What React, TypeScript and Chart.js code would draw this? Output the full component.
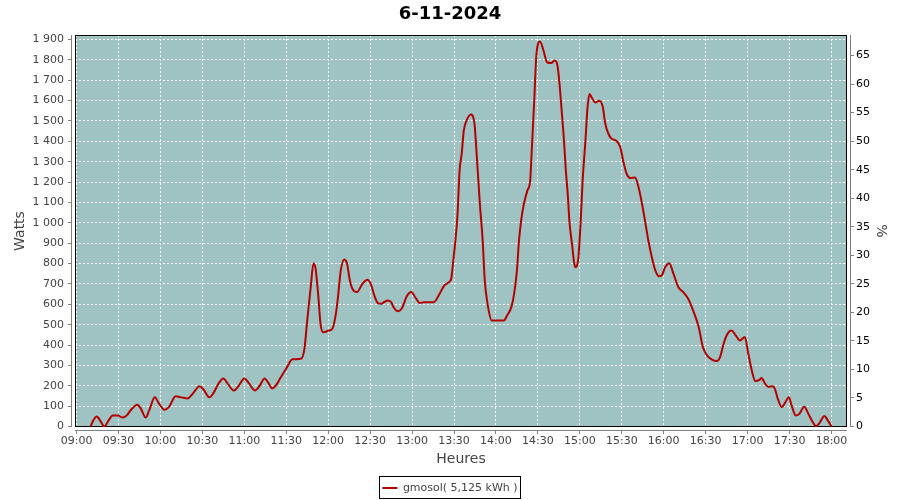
import React, { useEffect, useRef } from "react";
import { Chart, registerables } from "chart.js";

Chart.register(...registerables);

const chartTitle = "6-11-2024";
const seriesLabel = "gmosol( 5,125 kWh )";
const xAxisTitle = "Heures";
const leftAxisTitle = "Watts";
const rightAxisTitle = "%";

const times = [
  "09:10", "09:12", "09:14:30", "09:17", "09:20", "09:22:30", "09:26", "09:29:30", "09:33", "09:36",
  "09:39", "09:43:30", "09:46", "09:49:30", "09:52", "09:56", "09:59", "10:03", "10:06", "10:11",
  "10:15", "10:19:30", "10:23", "10:28", "10:31", "10:35", "10:38", "10:41:30", "10:45", "10:48",
  "10:52:30", "10:56", "11:00", "11:03:30", "11:07:30", "11:11", "11:14:30", "11:17:30", "11:20", "11:23",
  "11:26", "11:30", "11:34:30", "11:40:30", "11:43", "11:45", "11:47:30", "11:49:30", "11:51", "11:53",
  "11:54:30", "11:56:30", "12:00:30", "12:03", "12:05:30", "12:07", "12:09", "12:11:30", "12:13:30", "12:15:30",
  "12:18", "12:20:30", "12:24:30", "12:28", "12:30:30", "12:33", "12:35:30", "12:37:30", "12:42:30", "12:45",
  "12:47", "12:50", "12:52:30", "12:56:30", "12:59:30", "13:02:30", "13:05:30", "13:08:30", "13:15:30", "13:19",
  "13:23", "13:26:30", "13:28", "13:29:30", "13:31", "13:32:30", "13:34", "13:35:30", "13:37", "13:39",
  "13:42", "13:44:30", "13:46:30", "13:48:30", "13:50:30", "13:52", "13:54", "13:57", "14:05:30", "14:08",
  "14:11", "14:13", "14:15", "14:16:30", "14:18", "14:20", "14:22:30", "14:24:30", "14:25:30", "14:27:30",
  "14:29", "14:31:30", "14:34", "14:36:30", "14:39:30", "14:42", "14:44", "14:45:30", "14:47", "14:48:30",
  "14:50", "14:51:30", "14:52:30", "14:54:30", "14:56", "14:57", "14:58", "14:59", "15:00:30", "15:02",
  "15:04", "15:05:30", "15:07", "15:08:30", "15:11", "15:14", "15:16:30", "15:18", "15:20:30", "15:23",
  "15:26", "15:29", "15:31", "15:33:30", "15:36", "15:39:30", "15:42", "15:44:30", "15:47", "15:49",
  "15:51:30", "15:54", "15:56:30", "15:58:30", "16:01", "16:04", "16:07", "16:10:30", "16:14", "16:17:30",
  "16:21", "16:25", "16:28", "16:31", "16:34:30", "16:38", "16:40:30", "16:42:30", "16:45", "16:48:30",
  "16:51:30", "16:54:30", "16:58", "17:00:30", "17:03", "17:05:30", "17:08:30", "17:10", "17:12:30", "17:15",
  "17:18", "17:19:30", "17:22", "17:24:30", "17:27", "17:29:30", "17:31:30", "17:34:30", "17:37", "17:40:30",
  "17:43:30", "17:46", "17:49", "17:51:30", "17:55", "17:57", "18:00",
];

const watts = [
  0, 30, 49, 28, 0, 25, 54, 54, 44, 55,
  82, 107, 88, 44, 80, 143, 112, 82, 95, 148,
  143, 138, 160, 197, 180, 143, 165, 210, 236, 212,
  177, 200, 236, 210, 177, 200, 236, 210, 187, 205,
  240, 285, 330, 332, 381, 520, 684, 802, 774, 635,
  504, 463, 471, 480, 553, 635, 766, 820, 799, 717,
  668, 660, 700, 720, 700, 643, 606, 602, 619, 610,
  583, 566, 578, 643, 660, 632, 606, 610, 610, 643,
  692, 709, 725, 815, 913, 1040, 1257, 1339, 1453, 1502,
  1532, 1494, 1306, 1093, 913, 717, 602, 520, 520, 545,
  586, 651, 766, 913, 1011, 1093, 1159, 1208, 1339, 1617,
  1830, 1890, 1846, 1789, 1784, 1797, 1772, 1680, 1551, 1420,
  1257, 1126, 1011, 890, 800, 782, 790, 831, 994, 1207,
  1403, 1566, 1632, 1615, 1591, 1599, 1566, 1493, 1436, 1411,
  1403, 1370, 1305, 1240, 1220, 1223, 1174, 1092, 994, 913,
  831, 766, 738, 741, 782, 802, 749, 684, 659, 627,
  570, 488, 390, 349, 328, 321, 344, 398, 447, 471,
  447, 422, 439, 357, 275, 223, 229, 238, 210, 194,
  198, 185, 128, 95, 119, 144, 103, 54, 62, 97,
  62, 29, 2, 18, 51, 34, 0,
];

const timeTickLabels = [
  "09:00", "09:30", "10:00", "10:30", "11:00", "11:30", "12:00", "12:30", "13:00", "13:30",
  "14:00", "14:30", "15:00", "15:30", "16:00", "16:30", "17:00", "17:30", "18:00",
];
const wattTicks = [0, 100, 200, 300, 400, 500, 600, 700, 800, 900, 1000, 1100, 1200, 1300, 1400, 1500, 1600, 1700, 1800, 1900];
const percentTicks = [0, 5, 10, 15, 20, 25, 30, 35, 40, 45, 50, 55, 60, 65];

const xBounds = ["08:58:54", "18:11:06"];
const wattBounds = [-2.5, 1922];
const percentBounds = [-0.09, 68.59];

const toMin = (s: string) => {
  const p = s.split(":").map(Number);
  return p[0] * 60 + p[1] + (p[2] || 0) / 60;
};
const spaced = (v: number) => String(v).replace(/\B(?=(\d{3})+(?!\d))/g, " ");

const FONT = '"DejaVu Sans", sans-serif';
const PLOT_BG = "#9ec3c2";
const AXIS_GRAY = "#808080";
const LINE_RED = "#b40000";

const framePlugin = {
  id: "frame",
  beforeDraw(chart: any) {
    const { ctx, chartArea: a } = chart;
    ctx.save();
    ctx.fillStyle = "#ffffff";
    ctx.fillRect(0, 0, chart.width, chart.height);
    ctx.fillStyle = PLOT_BG;
    ctx.fillRect(a.left, a.top, a.right - a.left, a.bottom - a.top);
    ctx.restore();
  },
  beforeDatasetsDraw(chart: any) {
    const { ctx, chartArea: a } = chart;
    const L = Math.round(a.left);
    const R = Math.round(a.right);
    const T = Math.round(a.top);
    const B = Math.round(a.bottom);
    ctx.save();
    ctx.fillStyle = "#ffffff";
    ctx.fillRect(L - 3, T, 3, B - T + 3);
    ctx.fillRect(R, T, 3, B - T + 3);
    ctx.fillRect(L - 3, B, R - L + 6, 3);
    ctx.strokeStyle = AXIS_GRAY;
    ctx.lineWidth = 1;
    ctx.beginPath();
    ctx.moveTo(L - 3.5, T);
    ctx.lineTo(L - 3.5, B);
    ctx.moveTo(R + 3.5, T);
    ctx.lineTo(R + 3.5, B);
    ctx.moveTo(L, B + 3.5);
    ctx.lineTo(R, B + 3.5);
    ctx.stroke();
    ctx.strokeStyle = "#000000";
    ctx.strokeRect(L + 0.5, T + 0.5, R - L - 1, B - T - 1);
    ctx.restore();
  },
  afterDraw(chart: any) {
    const lg = chart.legend;
    const hb = lg && lg.legendHitBoxes && lg.legendHitBoxes[0];
    if (!hb) return;
    const { ctx } = chart;
    ctx.save();
    ctx.strokeStyle = "#000000";
    ctx.lineWidth = 1;
    const x = Math.round(hb.left) - 2.5;
    const y = Math.round(hb.top + hb.height / 2) - 11.5;
    ctx.strokeRect(x, y, Math.round(hb.width) + 6, 22);
    ctx.restore();
  },
};

export default function App() {
  const ref = useRef<HTMLCanvasElement | null>(null);

  useEffect(() => {
    if (!ref.current) return;
    const points = times.map((t, i) => ({ x: toMin(t), y: watts[i] }));
    const chart = new Chart(ref.current, {
      type: "line",
      data: {
        datasets: [
          {
            label: seriesLabel,
            data: points,
            borderColor: LINE_RED,
            backgroundColor: LINE_RED,
            borderWidth: 2,
            pointRadius: 0,
            fill: false,
            cubicInterpolationMode: "monotone",
            yAxisID: "y",
          },
        ],
      },
      options: {
        animation: false,
        responsive: false,
        maintainAspectRatio: false,
        layout: { padding: { top: 0, left: 0, right: 0, bottom: -3.5 } },
        plugins: {
          title: {
            display: true,
            text: chartTitle,
            color: "#000000",
            font: { family: FONT, size: 18, weight: "bold" },
            padding: { top: 3.5, bottom: 9.9 },
          },
          legend: {
            display: true,
            position: "bottom",
            labels: {
              usePointStyle: true,
              pointStyle: "line",
              pointStyleWidth: 15,
              padding: 6,
              color: "#444444",
              font: { family: FONT, size: 11 },
            },
          },
          tooltip: { enabled: false },
        },
        scales: {
          x: {
            type: "linear",
            min: toMin(xBounds[0]),
            max: toMin(xBounds[1]),
            afterBuildTicks: (scale: any) => {
              scale.ticks = timeTickLabels.map((l) => ({ value: toMin(l) }));
            },
            afterFit: (scale: any) => {
              scale.height = 49.5;
            },
            ticks: {
              autoSkip: false,
              maxRotation: 0,
              padding: 1,
              color: "#444444",
              font: { family: FONT, size: 11 },
              callback: (v: any) => {
                const l = timeTickLabels.find((s) => Math.abs(toMin(s) - Number(v)) < 0.01);
                return l || "";
              },
            },
            grid: {
              color: "#ffffff",
              lineWidth: 1,
              tickLength: 7,
              tickColor: AXIS_GRAY,
              tickBorderDash: [],
            },
            border: { display: false, dash: [2, 2] },
            title: {
              display: true,
              text: xAxisTitle,
              color: "#444444",
              font: { family: FONT, size: 14 },
              padding: { top: 0, bottom: 9.1 },
            },
          },
          y: {
            type: "linear",
            position: "left",
            min: wattBounds[0],
            max: wattBounds[1],
            afterBuildTicks: (scale: any) => {
              scale.ticks = wattTicks.map((v) => ({ value: v }));
            },
            afterFit: (scale: any) => {
              scale.width = 75;
            },
            ticks: {
              padding: 4,
              color: "#444444",
              font: { family: FONT, size: 11 },
              callback: (v: any) => spaced(Number(v)),
            },
            grid: {
              color: "#ffffff",
              lineWidth: 1,
              tickLength: 7,
              tickColor: AXIS_GRAY,
              tickBorderDash: [],
            },
            border: { display: false, dash: [2, 2] },
            title: {
              display: true,
              text: leftAxisTitle,
              color: "#444444",
              font: { family: FONT, size: 14 },
              padding: { top: 11.6, bottom: 0 },
            },
          },
          y1: {
            type: "linear",
            position: "right",
            min: percentBounds[0],
            max: percentBounds[1],
            afterBuildTicks: (scale: any) => {
              scale.ticks = percentTicks.map((v) => ({ value: v }));
            },
            afterFit: (scale: any) => {
              scale.width = 53;
            },
            ticks: {
              padding: 2,
              color: "#000000",
              font: { family: FONT, size: 11 },
              callback: (v: any) => String(v),
            },
            grid: {
              drawOnChartArea: false,
              tickLength: 7,
              tickColor: AXIS_GRAY,
              tickBorderDash: [],
            },
            border: { display: false },
            title: {
              display: true,
              text: rightAxisTitle,
              color: "#444444",
              font: { family: FONT, size: 14 },
              padding: { top: 11.1, bottom: 0 },
            },
          },
        },
      } as any,
      plugins: [framePlugin],
    });
    return () => chart.destroy();
  }, []);

  return (
    <div style={{ position: "fixed", left: 0, top: 0, width: 900, height: 500, background: "#fff" }}>
      <canvas ref={ref} width={900} height={500} style={{ display: "block", width: 900, height: 500 }} />
    </div>
  );
}
